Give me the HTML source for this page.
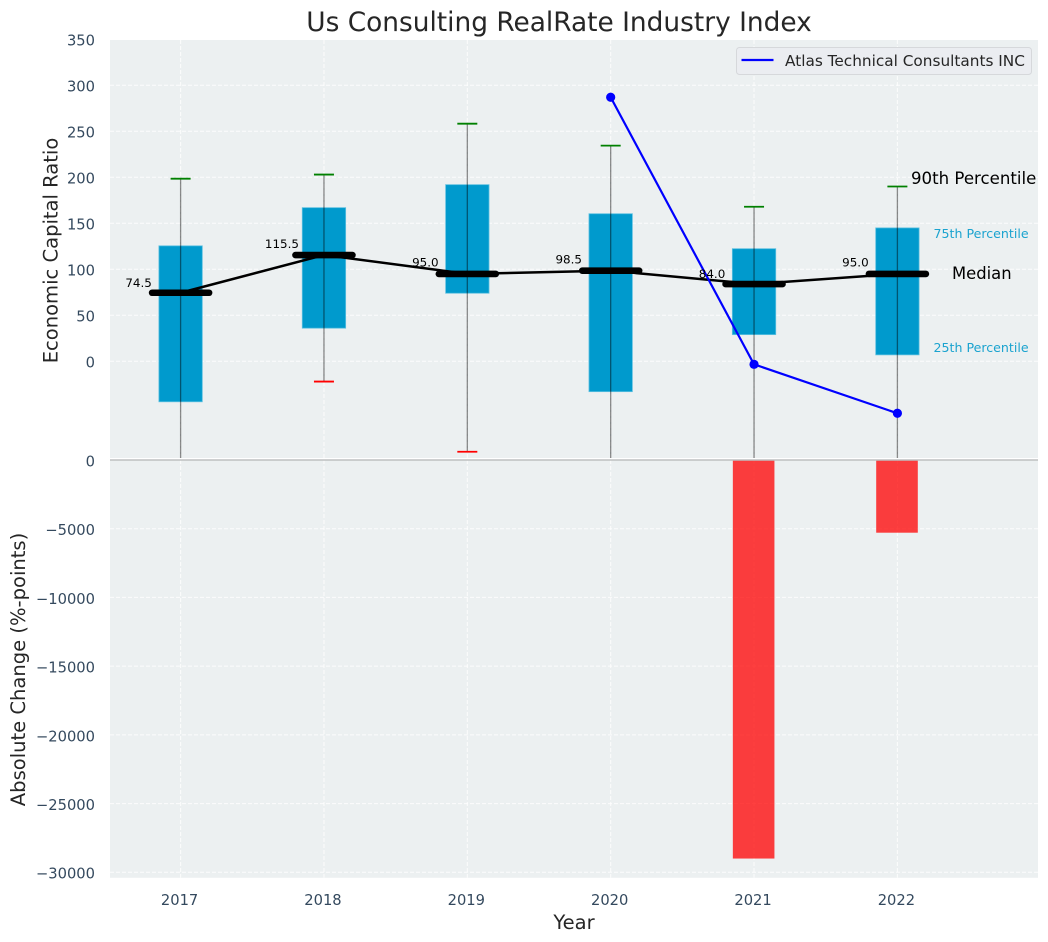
<!DOCTYPE html>
<html lang="en">
<head>
<meta charset="utf-8">
<title>Us Consulting RealRate Industry Index</title>
<style>
html,body{margin:0;padding:0;background:#fff;}
#chart{display:block;width:1048px;height:942px;font-family:"DejaVu Sans","Liberation Sans",sans-serif;}
</style>
</head>
<body>
<svg id="chart" xmlns="http://www.w3.org/2000/svg" width="1048" height="942" viewBox="0 0 1048 942">
  <defs>
    <clipPath id="clip-top"><rect x="110" y="40" width="928" height="418"/></clipPath>
    <clipPath id="clip-bottom"><rect x="110" y="459.5" width="928" height="418.3"/></clipPath>
  </defs>
  <rect x="110" y="40" width="928" height="418" fill="#ecf0f1"/>
  <rect x="110" y="459.5" width="928" height="418.3" fill="#ecf0f1"/>
  <g id="grid"></g>
  <g id="lower" clip-path="url(#clip-bottom)"></g>
  <line x1="110" x2="1038" y1="460" y2="460" stroke="#bdbfc0" stroke-width="1.4"/>
  <g id="upper" clip-path="url(#clip-top)"></g>
  <g id="ticks"></g>
  <g id="labels"></g>

  <text x="559" y="31" text-anchor="middle" font-size="26.4" fill="#262626">Us Consulting RealRate Industry Index</text>
  <text transform="translate(57.5,250.5) rotate(-90)" text-anchor="middle" font-size="19.55" fill="#262626">Economic Capital Ratio</text>
  <text transform="translate(25,669.5) rotate(-90)" text-anchor="middle" font-size="19.55" fill="#262626">Absolute Change (%-points)</text>
  <text x="574" y="929" text-anchor="middle" font-size="19.55" fill="#262626">Year</text>

  <text x="911" y="184" font-size="16.6" fill="#000">90th Percentile</text>
  <text x="933.5" y="238" font-size="12.6" fill="#1ba3cf">75th Percentile</text>
  <text x="952" y="279" font-size="16.4" fill="#000">Median</text>
  <text x="933.5" y="352" font-size="12.6" fill="#1ba3cf">25th Percentile</text>

  <g>
    <rect x="736.5" y="47.5" width="295" height="27" rx="3" fill="#ebedf1" stroke="#d6d8db" stroke-width="1"/>
    <line x1="741.5" x2="773.5" y1="60" y2="60" stroke="#0000ff" stroke-width="2.2"/>
    <text x="785" y="66" font-size="15.3" fill="#262626">Atlas Technical Consultants INC</text>
  </g>
</svg>
<script>
const years = [2017, 2018, 2019, 2020, 2021, 2022];
const p25 = [-44, 36, 74, -33, 29, 7];
const p75 = [125.5, 167, 192, 160.4, 122.4, 145];
const p10 = [-125, -22, -98.3, -125, -125, -125];
const p90 = [198.5, 203, 258.3, 234.4, 168, 190];
const medians = [74.5, 115.5, 95.0, 98.5, 84.0, 95.0];
const atlasYears = [2020, 2021, 2022];
const atlasValues = [287, -3.3, -56.5];
const changeYears = [2021, 2022];
const changeValues = [-29000, -5290];
const upperTicks = [350, 300, 250, 200, 150, 100, 50, 0];
const lowerTicks = [0, -5000, -10000, -15000, -20000, -25000, -30000];

const NS = 'http://www.w3.org/2000/svg';
function xScale(v) { return 180.6 + (v - 2017) * 143.36; }
function yUpper(v) { return 361.3 - v * 0.92; }
function yLower(v) { return 460 - v * 0.013743; }
function make(tag, parent, attrs, text) {
  const n = document.createElementNS(NS, tag);
  for (const k in attrs) n.setAttribute(k, attrs[k]);
  if (text !== undefined) n.textContent = text;
  document.getElementById(parent).appendChild(n);
  return n;
}
function fmt(v) { return v < 0 ? '\u2212' + Math.abs(v) : String(v); }

// grid and tick labels
upperTicks.forEach(function (t) {
  if (yUpper(t) >= 40) {
    const g = make('line', 'grid', {x1: 110, x2: 1038, y1: yUpper(t), y2: yUpper(t), stroke: '#fff', 'stroke-width': 1, 'stroke-dasharray': '4 2', opacity: 0.85});
    
    
  }
  const l = make('text', 'ticks', {x: 95, y: yUpper(t) + 6.4, 'text-anchor': 'end', 'font-size': 14.7, fill: '#34495e'}, fmt(t));
  
  
});
lowerTicks.forEach(function (t) {
  if (t !== 0) {
    const g = make('line', 'grid', {x1: 110, x2: 1038, y1: yLower(t), y2: yLower(t), stroke: '#fff', 'stroke-width': 1, 'stroke-dasharray': '4 2', opacity: 0.85});
    
    
  }
  const l = make('text', 'ticks', {x: 95, y: yLower(t) + 6.4, 'text-anchor': 'end', 'font-size': 14.7, fill: '#34495e'}, fmt(t));
  
  
});
years.forEach(function (y) {
  const g1 = make('line', 'grid', {x1: xScale(y), x2: xScale(y), y1: 40, y2: 458, stroke: '#fff', 'stroke-width': 1, 'stroke-dasharray': '4 2', opacity: 0.85});
  
  
  const g2 = make('line', 'grid', {x1: xScale(y), x2: xScale(y), y1: 460, y2: 877.8, stroke: '#fff', 'stroke-width': 1, 'stroke-dasharray': '4 2', opacity: 0.85});
  
  
  const l = make('text', 'ticks', {x: xScale(y) - 1, y: 905, 'text-anchor': 'middle', 'font-size': 14.7, fill: '#34495e'}, String(y));
  
  
});

// lower panel bars
changeYears.forEach(function (y, i) {
  const b = make('rect', 'lower', {x: xScale(y) - 21.2, y: yLower(0), width: 41.6, height: yLower(changeValues[i]) - yLower(0), fill: '#ff0000', 'fill-opacity': 0.75});
  
  
});

// upper panel boxes and whiskers
years.forEach(function (y, i) {
  const x = xScale(y);
  const box = make('rect', 'upper', {x: x - 21.7, y: yUpper(p75[i]), width: 43.4, height: yUpper(p25[i]) - yUpper(p75[i]), fill: '#009acd', stroke: '#5cc0e0', 'stroke-width': 0.8});
  
  
  const w = make('line', 'upper', {x1: x, x2: x, y1: yUpper(p90[i]), y2: yUpper(p10[i]), stroke: '#000', 'stroke-opacity': 0.45, 'stroke-width': 1.3});
  
  
  const ct = make('line', 'upper', {x1: x - 10, x2: x + 10, y1: yUpper(p90[i]), y2: yUpper(p90[i]), stroke: '#008000', 'stroke-width': 1.8});
  
  
  const cb = make('line', 'upper', {x1: x - 10, x2: x + 10, y1: yUpper(p10[i]), y2: yUpper(p10[i]), stroke: '#ff0000', 'stroke-width': 1.8});
  
  
});

// median trend
const medianPts = years.map(function (y, i) { return xScale(y) + ',' + yUpper(medians[i]); }).join(' ');
const trend = make('polyline', 'upper', {points: medianPts, fill: 'none', stroke: '#000', 'stroke-width': 2.5});


years.forEach(function (y, i) {
  const x = xScale(y);
  const m = make('line', 'upper', {x1: x - 28.5, x2: x + 28.5, y1: yUpper(medians[i]), y2: yUpper(medians[i]), stroke: '#000', 'stroke-width': 6.6, 'stroke-linecap': 'round'});
  
  
  const t = make('text', 'labels', {x: x - 42, y: yUpper(medians[i]) - 5.8 - (medians[i] > 90 ? 1.4 : 0), 'text-anchor': 'middle', 'font-size': 11.9, fill: '#000'}, medians[i].toFixed(1));
  
  
});

// Atlas series
const atlasPts = atlasYears.map(function (y, i) { return xScale(y) + ',' + yUpper(atlasValues[i]); }).join(' ');
const atlas = make('polyline', 'upper', {points: atlasPts, fill: 'none', stroke: '#0000ff', 'stroke-width': 2.2});


atlasYears.forEach(function (y, i) {
  const c = make('circle', 'upper', {cx: xScale(y), cy: yUpper(atlasValues[i]), r: 4.6, fill: '#0000ff'});
  
  
});
</script>
</body>
</html>
